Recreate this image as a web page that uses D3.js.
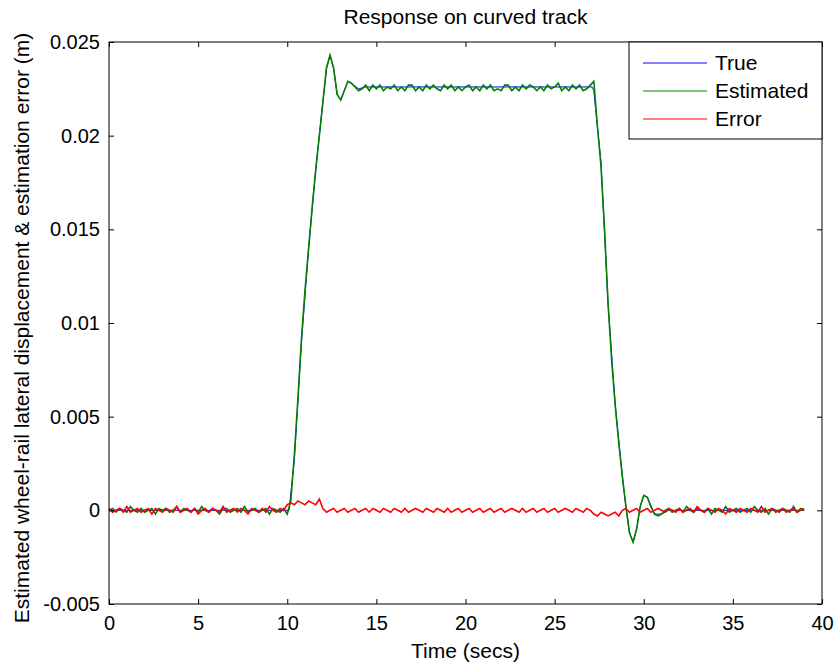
<!DOCTYPE html>
<html>
<head>
<meta charset="utf-8">
<script src="https://cdn.jsdelivr.net/npm/d3@7"></script>
<style>
  body { margin: 0; background: #fff; }
  svg text { font-family: Arial, "Liberation Sans", Helvetica, sans-serif; fill: #000; }
</style>
</head>
<body>
<svg id="chart"></svg>
<script>
// sample spacing of the recorded signals (secs)
const sampleStep = 0.2;

// values in units of 1e-4 m, one per sample from t = 0
const estimated = [
  0, 1, -1, 1, 0, -1, 2, 0, -1, 1,
  -1, 0, 1, -2, 1, 0, 1, -1, 0, 2,
  -1, 1, 0, -1, 1, -1, 2, 0, -1, 1,
  0, -2, 1, 1, -1, 0, 1, -1, 2, -1,
  0, 1, -1, 0, 1, -2, 1, 0, -1, 1,
  -2, 5, 30, 60, 92, 118, 140, 162, 182, 200,
  218, 236, 243, 236, 222, 219, 224, 229, 228, 226,
  224, 225, 227, 224, 227, 225, 227, 224, 226, 225,
  227, 224, 226, 224, 227, 227, 224, 226, 224, 227,
  225, 227, 225, 224, 227, 225, 227, 224, 226, 224,
  226, 227, 224, 226, 224, 227, 225, 227, 224, 225,
  224, 227, 227, 224, 226, 224, 227, 225, 227, 226,
  224, 226, 224, 227, 225, 226, 228, 224, 226, 224,
  227, 225, 227, 224, 225, 227, 229, 205, 184, 150,
  110, 80, 56, 36, 18, 2, -12, -17, -10, 2,
  8, 7, 2, -2, -3, -2, 0, 1, -1, 0,
  1, -1, 2, 0, -1, 1, 0, -1, 1, -2,
  1, 0, -1, 2, -1, 0, 1, -1, 0, 1,
  -1, 2, 0, -1, 1, -2, 1, 0, -1, 1,
  0, -1, 2, -1, 1, 0
];

const errorVals = [
  1, -1, 0, 1, -1, 2, -1, 0, 1, -1,
  0, 1, -2, 1, 0, -1, 1, 0, -1, 2,
  -1, 0, 1, -1, 1, -2, 0, 1, -1, 1,
  0, -1, 2, -1, 0, 1, -1, 1, 0, -2,
  1, 0, -1, 1, -1, 2, 0, -1, 1, 0,
  3, 4, 3, 5, 4, 3, 5, 4, 3, 6,
  1, -1, 0, 1, -1, 0, 1, -1, 0, 1,
  -1, 0, 1, -1, 1, 0, -1, 1, 0, -1,
  1, 0, -1, 1, -1, 0, 1, 0, -1, 1,
  0, -1, 1, 0, -1, 1, -1, 0, 1, -1,
  0, 1, -1, 0, 1, -1, 0, 1, -1, 0,
  1, -1, 0, 1, 0, -1, 1, -1, 0, 1,
  -1, 0, 1, -1, 0, 1, -1, 0, 1, 0,
  -1, 1, 0, -1, 1, 0, -2, -3, -1, -2,
  -3, -2, -1, -3, 0, 1, -1, 0, 1, -1,
  0, 1, -1, 0, 1, 0, -1, 1, 0, -1,
  1, -1, 0, 1, -1, 2, 0, -1, 1, 0,
  -1, 1, 0, -2, 1, 0, -1, 1, 0, -1,
  1, 0, -1, 2, -1, 0, 1, -1, 0, 1,
  -1, 0, 1, -1, 0, 1
];

// true displacement, smooth (time secs, value 1e-4 m)
const trueTimes = [0, 10.1, 10.4, 10.8, 11.2, 11.6, 12.0, 12.2, 12.4, 12.6, 12.8, 13.0, 13.2, 13.4, 13.6, 14.0, 14.4, 27.1, 27.2, 27.6, 28.0, 28.4, 28.8, 29.0, 29.2, 29.4, 29.6, 29.8, 30.0, 30.2, 30.6, 31.0, 31.4, 39.0];
const trueVals = [0, 0, 27, 90, 140, 182, 218, 236, 243, 236, 222, 219, 224, 229, 228, 225, 226, 226, 224, 186, 110, 56, 18, 2, -12, -17, -10, 2, 8, 7, -2, -2, 0, 0];

const seriesNames = ['True', 'Estimated', 'Error'];
const seriesColors = ['#0000ff', '#008000', '#ff0000'];
const xTicks = [0, 5, 10, 15, 20, 25, 30, 35, 40];
const yTicks = [-0.005, 0, 0.005, 0.01, 0.015, 0.02, 0.025];
const yTickLabels = ['-0.005', '0', '0.005', '0.01', '0.015', '0.02', '0.025'];

const unit = 1e-4;
const width = 835, height = 664;
const margin = { top: 42, right: 13, bottom: 60, left: 109 };
const iw = width - margin.left - margin.right;
const ih = height - margin.top - margin.bottom;

const svg = d3.select('#chart').attr('width', width).attr('height', height);
const g = svg.append('g').attr('transform', `translate(${margin.left},${margin.top})`);

const x = d3.scaleLinear().domain([0, 40]).range([0, iw]);
const y = d3.scaleLinear().domain([-0.005, 0.025]).range([ih, 0]);

const toPoints = vals => vals.map((v, i) => ({ t: i * sampleStep, v: v * unit }));
const series = [
  trueTimes.map((t, i) => ({ t: t, v: trueVals[i] * unit })),
  toPoints(estimated),
  toPoints(errorVals)
];
const strokeWidths = [1, 1.6, 1.6];

const line = d3.line().x(d => x(d.t)).y(d => y(d.v));

series.forEach((s, i) => {
  g.append('path')
    .datum(s)
    .attr('d', line)
    .attr('fill', 'none')
    .attr('stroke', seriesColors[i])
    .attr('stroke-width', strokeWidths[i]);
});

// axes, ticks pointing inward on all four sides
const tickLen = 5;
const fmtY = d => yTickLabels[yTicks.indexOf(d)];
const axBottom = g.append('g').attr('transform', `translate(0,${ih})`)
  .call(d3.axisBottom(x).tickValues(xTicks).tickSizeInner(-tickLen).tickSizeOuter(0).tickPadding(12));
const axTop = g.append('g')
  .call(d3.axisTop(x).tickValues(xTicks).tickSizeInner(-tickLen).tickSizeOuter(0).tickFormat(''));
const axLeft = g.append('g')
  .call(d3.axisLeft(y).tickValues(yTicks).tickSizeInner(-tickLen).tickSizeOuter(0).tickPadding(9).tickFormat(fmtY));
const axRight = g.append('g').attr('transform', `translate(${iw},0)`)
  .call(d3.axisRight(y).tickValues(yTicks).tickSizeInner(-tickLen).tickSizeOuter(0).tickFormat(''));

[axBottom, axTop, axLeft, axRight].forEach(a => {
  a.select('.domain').remove();
  a.selectAll('line').attr('stroke', '#000');
  a.selectAll('text').attr('font-size', 20).attr('font-family', null);
});

g.append('rect')
  .attr('x', 0).attr('y', 0).attr('width', iw).attr('height', ih)
  .attr('fill', 'none').attr('stroke', '#000').attr('stroke-width', 1);

// legend
const lg = g.append('g').attr('transform', `translate(${iw - 193},0)`);
lg.append('rect').attr('width', 193).attr('height', 97)
  .attr('fill', '#fff').attr('stroke', '#000');
seriesNames.forEach((name, i) => {
  const ly = 21 + i * 28;
  lg.append('line').attr('x1', 14).attr('x2', 78).attr('y1', ly).attr('y2', ly)
    .attr('stroke', seriesColors[i]).attr('stroke-width', 1);
  lg.append('text').attr('x', 86).attr('y', ly).attr('dy', '0.35em')
    .attr('font-size', 21).text(name);
});

// titles
svg.append('text').attr('x', margin.left + iw / 2).attr('y', 24)
  .attr('text-anchor', 'middle').attr('font-size', 21).text('Response on curved track');
svg.append('text').attr('x', margin.left + iw / 2).attr('y', 658)
  .attr('text-anchor', 'middle').attr('font-size', 21).text('Time (secs)');
svg.append('text')
  .attr('transform', `translate(29,${margin.top + ih / 2 + 5}) rotate(-90)`)
  .attr('text-anchor', 'middle').attr('font-size', 21)
  .text('Estimated wheel-rail lateral displacement & estimation error (m)');
</script>
</body>
</html>
